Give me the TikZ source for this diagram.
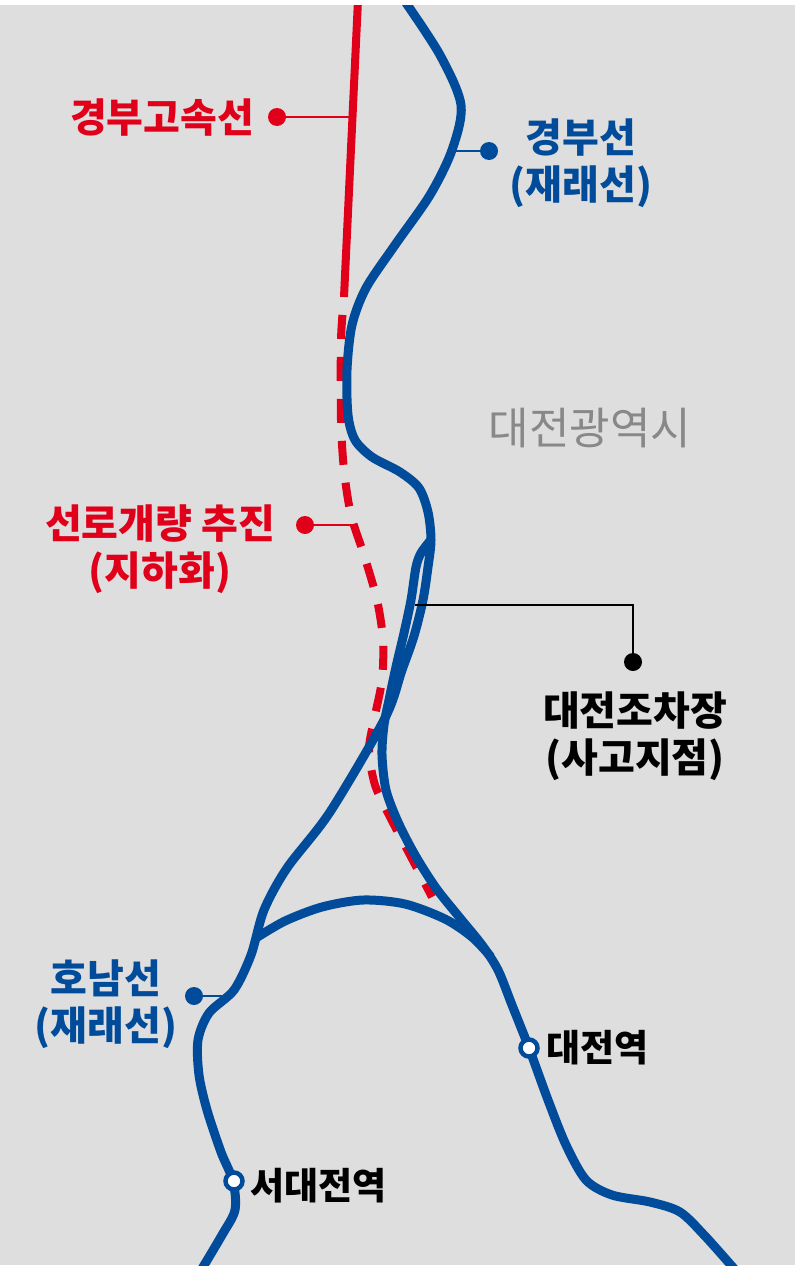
\documentclass[tikz,border=0pt]{standalone}
\usepackage{fontspec}
\usepackage{xcolor}
\usepackage{tikz}
\usetikzlibrary{calc}
\newfontfamily\kr{Noto Sans CJK KR}
\definecolor{railblue}{RGB}{0,76,155}
\definecolor{railred}{RGB}{224,0,26}
\definecolor{mapgray}{RGB}{222,222,222}
\definecolor{citygray}{RGB}{136,136,136}
\tikzset{
 rail/.style={railblue, line width=9pt, line join=round},
 ktxline/.style={railred, line width=8pt},
 ktxplan/.style={railred, line width=8pt, dash pattern=on 24pt off 18pt, dash phase=24pt},
 leader/.style={line width=2.5pt},
 pin/.style={circle, fill, inner sep=0pt, minimum size=18pt},
 station/.style={circle, draw=railblue, fill=white, line width=4.5pt, inner sep=0pt, minimum size=17pt},
 lbl/.style={font=\kr\bfseries\fontsize{40}{47}\selectfont, align=center, inner sep=0pt},
 stnlbl/.style={font=\kr\bfseries\fontsize{37}{40}\selectfont, anchor=west, inner sep=0pt}
}

\begin{document}
\begin{tikzpicture}[x=1pt,y=-1pt]
\useasboundingbox (0,0) rectangle (800,1269);
\fill[mapgray] (0,5) rectangle (795,1265);

\begin{scope}
\clip (0,5) rectangle (795,1265);
% high speed line, built and planned
\draw[ktxline] (358,0) -- (344,297);
\draw[ktxplan] plot[smooth] coordinates {(344,297) (341,340) (341,420) (344,470) (351,515) (364,555) (377,600) (383,640) (382,680) (374,720) (369,750) (375,785) (390,817) (410,855) (432,897)};
% existing lines
\draw[rail] plot[smooth] coordinates {(404,0) (440,55) (461,105) (452,150) (430,195) (395,245) (366,288) (352,325) (347,370) (348,415) (355,440) (372,457) (400,472) (419,488) (428,512) (431,540) (428,567) (423,600) (414,636) (402,670) (385,718) (330,812) (287,868) (264,910) (251,955) (234,990) (209,1013) (198,1040) (199,1075) (207,1110) (221,1152) (233,1181) (235,1210) (222,1235) (200,1272)};
\draw[rail] plot[smooth] coordinates {(430,541) (421,553) (416,567) (411,600) (404,633) (396,667) (389,700) (384,725) (382,755) (386,790) (398,822) (415,855) (436,888) (460,918) (482,945) (498,970) (512,1005) (529,1048) (548,1100) (566,1145) (586,1180) (612,1195) (650,1202) (680,1212) (705,1236) (737,1272)};
\draw[rail] plot[smooth] coordinates {(256,938) (285,921) (322,907) (363,900) (405,904) (445,919) (472,937) (491,957)};
\end{scope}

% labels and leaders
\node[lbl, railred] (ktx) at (162,118) {경부고속선};
\node[pin, railred] (ktxdot) at (277,117) {};
\coordinate (ktxhit) at (353,117);
\draw[leader, railred] (ktxdot.center) -- (ktxhit);

\node[lbl, railblue] (gyeongbu) at (581,163) {경부선\\(재래선)};
\node[pin, railblue] (gbdot) at (489,151) {};
\coordinate (gbhit) at (450,151);
\draw[leader, railblue] (gbhit) -- (gbdot.center);

\node[font=\kr\fontsize{44}{48}\selectfont, citygray, inner sep=0pt] (city) at (590,428) {대전광역시};

\node[lbl, railred] (plan) at (160,549) {선로개량 추진\\(지하화)};
\node[pin, railred] (plandot) at (305,525) {};
\coordinate (planhit) at (354,525);
\draw[leader, railred] (plandot.center) -- (planhit);

\node[lbl] (yard) at (635,736) {대전조차장\\(사고지점)};
\node[pin, black] (yarddot) at (633,662) {};
\coordinate (yardhit) at (415,605);
\draw[leader] (yardhit) -- (yardhit -| yarddot) -- (yarddot.center);

\node[lbl, railblue] (honam) at (106,1004) {호남선\\(재래선)};
\node[pin, railblue] (hndot) at (194,996) {};
\coordinate (hnhit) at (222,996);
\draw[leader, railblue] (hndot.center) -- (hnhit);

% stations
\node[station] (daejeon) at (529,1048) {};
\node[station] (seodaejeon) at (234,1181) {};
\node[stnlbl] (dj) at (546,1048) {대전역};
\node[stnlbl] (sdj) at (250,1186) {서대전역};
\end{tikzpicture}
\end{document}
